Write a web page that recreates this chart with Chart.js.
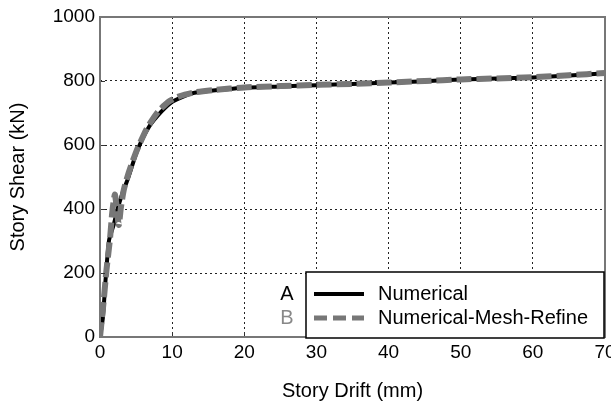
<!DOCTYPE html>
<html>
<head>
<meta charset="utf-8">
<script src="https://cdn.jsdelivr.net/npm/chart.js@4/dist/chart.umd.min.js"></script>
<style>
  html, body { margin: 0; padding: 0; background: #fff; }
  #wrap { width: 611px; height: 405px; }
</style>
</head>
<body>
<div id="wrap"><canvas id="pushover"></canvas></div>
<script>
// story drift (mm) / story shear (kN)
const numDrift = [0, 0.4, 0.8, 1.26, 1.95, 2.4, 3.1, 3.8, 5.2, 6.8, 8.5, 10, 11.7, 13.1, 16, 20, 25, 30, 35, 40, 45, 50, 55, 60, 65, 70];
const numShear = [0, 60, 188, 303, 355, 397, 449, 490, 584, 657, 704, 735, 753, 763, 771, 779, 783, 787, 791, 795, 799, 805, 808, 811, 817, 824];

const refineDrift = [0, 0.5, 0.9, 1.4, 1.7, 2.05, 2.3, 2.6, 2.9, 3.3, 4, 5, 6.5, 8, 9.5, 11, 13, 16, 20, 25, 30, 35, 40, 45, 50, 55, 60, 65, 70];
const refineShear = [0, 110, 210, 310, 390, 445, 410, 350, 405, 460, 515, 578, 652, 703, 735, 752, 764, 772, 780, 784, 788, 791, 795, 800, 805, 808, 812, 818, 825];

const driftTicks = [0, 10, 20, 30, 40, 50, 60, 70];
const shearTicks = [0, 200, 400, 600, 800, 1000];

const seriesNames = ["Numerical", "Numerical-Mesh-Refine"];
const seriesTags = ["A", "B"];

const FONT = "'Liberation Sans', Arial, sans-serif";

function toPoints(xs, ys) {
    return xs.map((x, i) => ({x: x, y: ys[i]}));
}

// frame, inward ticks and the boxed legend
const framePlugin = {
    id: "frame",
    afterDatasetsDraw(chart) {
        const {ctx, chartArea: a, scales} = chart;
        ctx.save();
        ctx.strokeStyle = "#333";
        ctx.lineWidth = 1;
        driftTicks.forEach(v => {
            const px = Math.round(scales.x.getPixelForValue(v)) + 0.5;
            ctx.beginPath();
            ctx.moveTo(px, a.bottom);
            ctx.lineTo(px, a.bottom - 5);
            ctx.stroke();
        });
        shearTicks.forEach(v => {
            const py = Math.round(scales.y.getPixelForValue(v)) + 0.5;
            ctx.beginPath();
            ctx.moveTo(a.left, py);
            ctx.lineTo(a.left + 5, py);
            ctx.stroke();
        });
        ctx.strokeStyle = "#777";
        ctx.lineWidth = 2;
        ctx.strokeRect(a.left, a.top, a.right - a.left, a.bottom - a.top);

        // legend box
        const w = 298, h = 66;
        const bx = a.right - w - 1, by = a.bottom - h + 1;
        ctx.fillStyle = "#fff";
        ctx.fillRect(bx, by, w, h);
        ctx.strokeStyle = "#000";
        ctx.lineWidth = 1.5;
        ctx.strokeRect(bx, by, w, h);

        const rows = [by + 22, by + 46];
        ctx.font = "20px " + FONT;
        ctx.textBaseline = "middle";
        seriesNames.forEach((name, i) => {
            const ds = chart.data.datasets.find(d => d.label === name);
            const y = rows[i];
            ctx.save();
            ctx.strokeStyle = ds.borderColor;
            ctx.lineWidth = i === 0 ? 4 : 5;
            ctx.setLineDash(i === 0 ? [] : [13, 6]);
            ctx.beginPath();
            ctx.moveTo(bx + 8, y);
            ctx.lineTo(bx + 58, y);
            ctx.stroke();
            ctx.restore();
            ctx.fillStyle = "#000";
            ctx.textAlign = "left";
            ctx.fillText(name, bx + 72, y);
            ctx.fillStyle = i === 0 ? "#000" : "#888";
            ctx.textAlign = "center";
            ctx.fillText(seriesTags[i], bx - 19, y);
        });
        ctx.restore();
    }
};

const ctx = document.getElementById("pushover").getContext("2d");
const pushoverChart = new Chart(ctx, {
    type: "scatter",
    data: {
        datasets: [{
            // dashed series first so it is drawn over the solid one
            label: seriesNames[1],
            data: toPoints(refineDrift, refineShear),
            showLine: true,
            borderColor: "#777",
            borderWidth: 6,
            borderDash: [15, 5],
            pointRadius: 0,
            tension: 0.2
        }, {
            label: seriesNames[0],
            data: toPoints(numDrift, numShear),
            showLine: true,
            borderColor: "#000",
            borderWidth: 4,
            pointRadius: 0,
            tension: 0.2
        }]
    },
    options: {
        responsive: true,
        maintainAspectRatio: false,
        animation: false,
        layout: {
            padding: {left: 0, right: 6, top: 17, bottom: 0}
        },
        plugins: {
            legend: {display: false},
            tooltip: {enabled: false}
        },
        scales: {
            x: {
                type: "linear",
                min: 0,
                max: 70,
                afterBuildTicks: s => { s.ticks = driftTicks.map(v => ({value: v})); },
                afterFit: s => { s.height = 68; s.paddingLeft = 0; s.paddingRight = 0; },
                ticks: {
                    color: "#000",
                    padding: 4,
                    maxRotation: 0,
                    callback: v => String(v),
                    font: {family: FONT, size: 19}
                },
                grid: {
                    drawTicks: false,
                    lineWidth: 1,
                    color: c => (c.tick && (c.tick.value === 0 || c.tick.value === 70)) ? "rgba(0,0,0,0)" : "#222"
                },
                border: {display: false, dash: [2, 3]},
                title: {
                    display: true,
                    text: "Story Drift (mm)",
                    color: "#000",
                    font: {family: FONT, size: 20},
                    padding: {top: 0, bottom: 2}
                }
            },
            y: {
                type: "linear",
                min: 0,
                max: 1000,
                afterBuildTicks: s => { s.ticks = shearTicks.map(v => ({value: v})); },
                afterFit: s => { s.width = 100; s.paddingTop = 0; s.paddingBottom = 0; },
                ticks: {
                    color: "#000",
                    padding: 5,
                    callback: v => String(v),
                    font: {family: FONT, size: 19}
                },
                grid: {
                    drawTicks: false,
                    lineWidth: 1,
                    color: c => (c.tick && (c.tick.value === 0 || c.tick.value === 1000)) ? "rgba(0,0,0,0)" : "#222"
                },
                border: {display: false, dash: [2, 3]},
                title: {
                    display: true,
                    text: "Story Shear (kN)",
                    color: "#000",
                    font: {family: FONT, size: 20},
                    padding: {top: 6, bottom: 0}
                }
            }
        }
    },
    plugins: [framePlugin]
});
</script>
</body>
</html>
